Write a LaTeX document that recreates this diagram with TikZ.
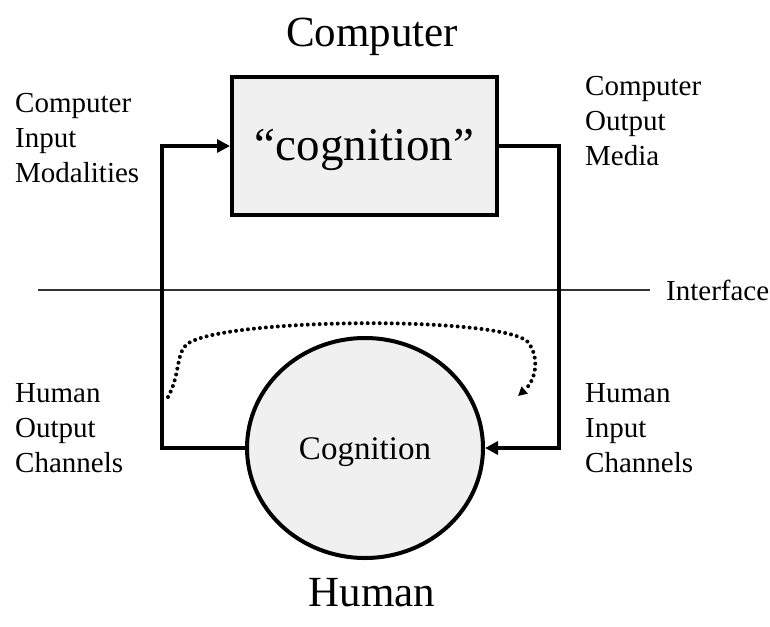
\documentclass[tikz,border=0pt]{standalone}
\usepackage{fontspec}
\setmainfont{Liberation Serif}
\usetikzlibrary{arrows.meta,shapes.geometric}
\tikzset{
  lbl/.style={align=left, anchor=base west, inner sep=0pt, font=\fontsize{29}{35}\selectfont},
  title/.style={anchor=base, inner sep=0pt, font=\fontsize{43}{50}\selectfont},
  conn/.style={line width=4pt, line join=miter},
  tip/.style={-{Triangle[length=13pt,width=13pt]}},
  dots/.style={line width=4pt, dash pattern=on 0pt off 6pt, line cap=round},
}
\begin{document}
\begin{tikzpicture}[x=1pt,y=-1pt]
\useasboundingbox (0,0) rectangle (770,626);
% titles
\node[title] (tcomp) at (372,46) {Computer};
\node[title] (thum) at (372,606) {Human};
% box
\node[draw, line width=4pt, fill=gray!12, minimum width=265pt, minimum height=138pt, inner sep=0pt] (comp) at (364.5,146) {};
\node[anchor=base, inner sep=0pt, font=\fontsize{47}{50}\selectfont] (ctext) at (comp.center |- 0,160) {“cognition”};
% circle
\node[draw, ellipse, line width=4pt, fill=gray!12, minimum width=236pt, minimum height=220pt, inner sep=0pt] (hum) at (365,448) {};
\node[anchor=base, inner sep=0pt, font=\fontsize{33}{36}\selectfont] (htext) at (hum.center |- 0,459) {Cognition};
% interface
\coordinate (il) at (38,290);
\coordinate (ir) at (650,290);
\draw[line width=1.1pt, black!80] (il) -- (ir);
\node[anchor=base west, inner sep=0pt, font=\fontsize{29}{34}\selectfont] (iface) at (666,300) {Interface};
% connectors
\draw[conn, tip] (hum.west) -- ++(-83,0) |- (comp.west);
\draw[conn, tip] (comp.east) -- ++(60,0) |- (hum.east);
% dotted curve
\coordinate (ds) at (168,397);
\coordinate (de) at (518,396);
\draw[dots, -{Triangle[length=9pt,width=9pt]}] (ds) .. controls (180,375) and (176,355) .. (186,345)
   .. controls (215,318) and (500,315) .. (528,342)
   .. controls (540,358) and (536,380) .. (de);
% labels (anchored at the baseline of the last line)
\node[lbl] (cim) at (15,182) {Computer\\Input\\Modalities};
\node[lbl] (com) at (585,165) {Computer\\Output\\Media};
\node[lbl] (hoc) at (15,472) {Human\\Output\\Channels};
\node[lbl] (hic) at (585,472) {Human\\Input\\Channels};
\end{tikzpicture}
\end{document}
